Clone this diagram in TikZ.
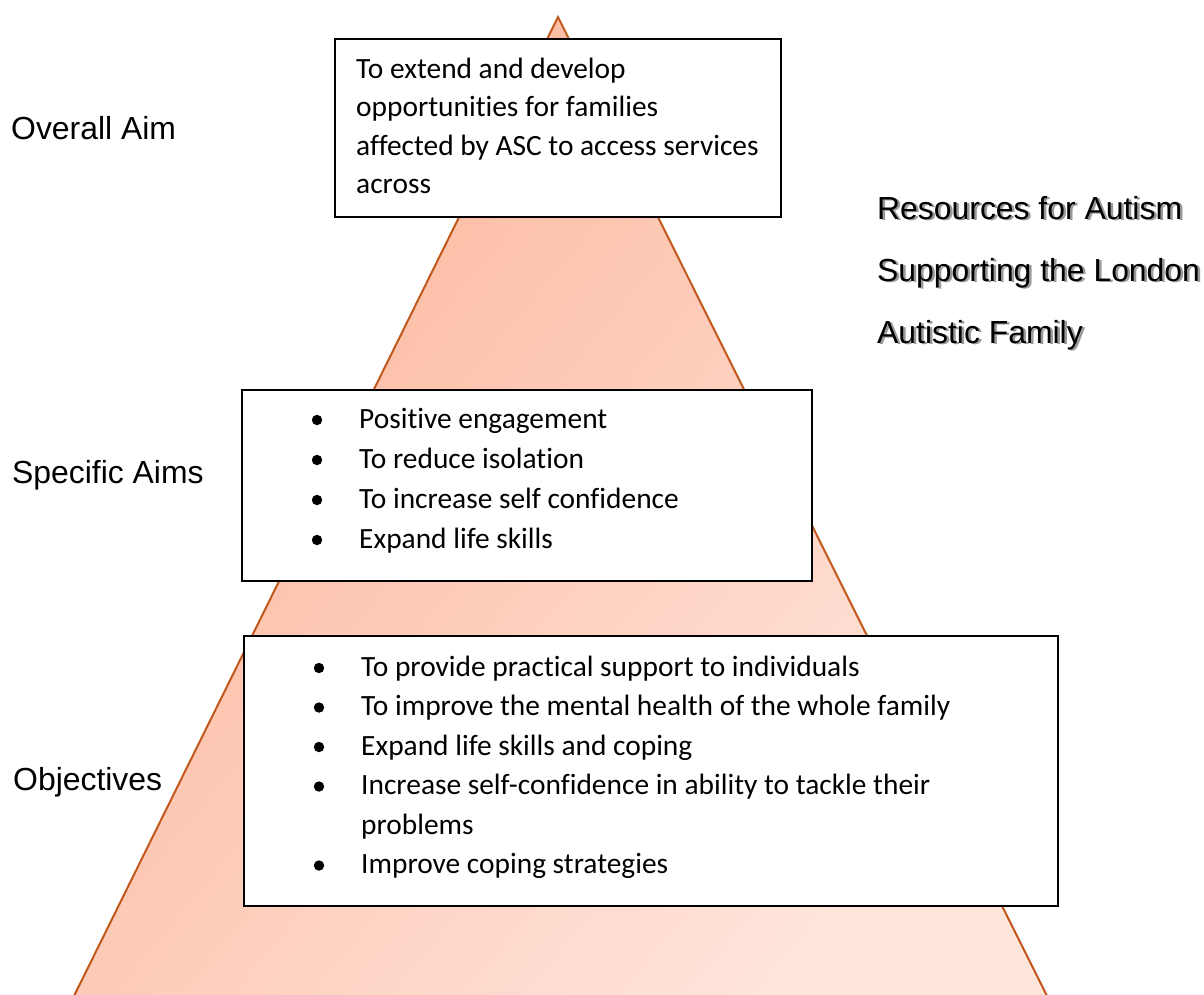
\documentclass[tikz,border=0pt]{standalone}
\usepackage{fontspec}
\setmainfont{Carlito}[Ligatures=NoCommon]
\newfontfamily\arialf{Liberation Sans}
\definecolor{triline}{HTML}{C0581C}
\definecolor{tritop}{HTML}{FCB59A}
\definecolor{tribot}{HTML}{FFE6DD}
\newcommand\shadowtxt[1]{\rlap{\hspace{2.5pt}\raisebox{-1.5pt}{\textcolor{black!40}{#1}}}#1}
\begin{document}
\begin{tikzpicture}[x=1pt,y=-1pt,
  boxst/.style={draw=black,line width=1.5pt,fill=white,inner sep=0pt},
  btext/.style={anchor=base west,inner sep=0pt,font=\fontsize{29.4}{35}\selectfont},
  lab/.style={anchor=base west,inner sep=0pt,font=\arialf\fontsize{31.9}{38}\selectfont},
  bul/.style={fill=black}
]
\useasboundingbox (0,0) rectangle (1204,994);
\begin{scope}
  \clip (0,0) rectangle (1204,994);
  \shade[top color=tritop,bottom color=tribot,shading angle=50]
    (558,17) -- (71,1002) -- (1050,1002) -- cycle;
  \draw[triline,line width=2pt,line join=miter] (71,1002) -- (558,17) -- (1050,1002);
\end{scope}

% boxes
\node[boxst,minimum width=446pt,minimum height=178pt] (box1) at (558,128) {};
\node[boxst,minimum width=570pt,minimum height=191pt] (box2) at (527,485.5) {};
\node[boxst,minimum width=814pt,minimum height=270pt] (box3) at (651,771) {};

% box 1 text
\node[btext] (a1) at (356,78) {To extend and develop};
\node[btext] (a2) at (356,116.5) {opportunities for families};
\node[btext] (a3) at (356,155) {affected by ASC to access services};
\node[btext] (a4) at (356,193) {across};

% box 2 text
\node[btext] (s1) at (359,428) {Positive engagement};
\node[btext] (s2) at (359,468) {To reduce isolation};
\node[btext] (s3) at (359,508) {To increase self confidence};
\node[btext] (s4) at (359,548) {Expand life skills};
\foreach \yy in {428,468,508,548} \fill[bul] (317,\yy-8) circle (5.2pt);

% box 3 text
\node[btext] (o1) at (361,676) {To provide practical support to individuals};
\node[btext] (o2) at (361,715.5) {To improve the mental health of the whole family};
\node[btext] (o3) at (361,755) {Expand life skills and coping};
\node[btext] (o4) at (361,794.5) {Increase self-confidence in ability to tackle their};
\node[btext] (o5) at (361,834) {problems};
\node[btext] (o6) at (361,873.5) {Improve coping strategies};
\foreach \yy in {676,715.5,755,794.5,873.5} \fill[bul] (319,\yy-8) circle (5.2pt);

% left labels
\node[lab] (l1) at (11,139) {Overall Aim};
\node[lab] (l2) at (12,483) {Specific Aims};
\node[lab] (l3) at (13,790) {Objectives};

% right title with shadow
\node[lab] (r1) at (877,219) {\shadowtxt{Resources for Autism}};
\node[lab] (r2) at (877,281) {\shadowtxt{Supporting the London}};
\node[lab] (r3) at (877,343) {\shadowtxt{Autistic Family}};
\end{tikzpicture}
\end{document}
